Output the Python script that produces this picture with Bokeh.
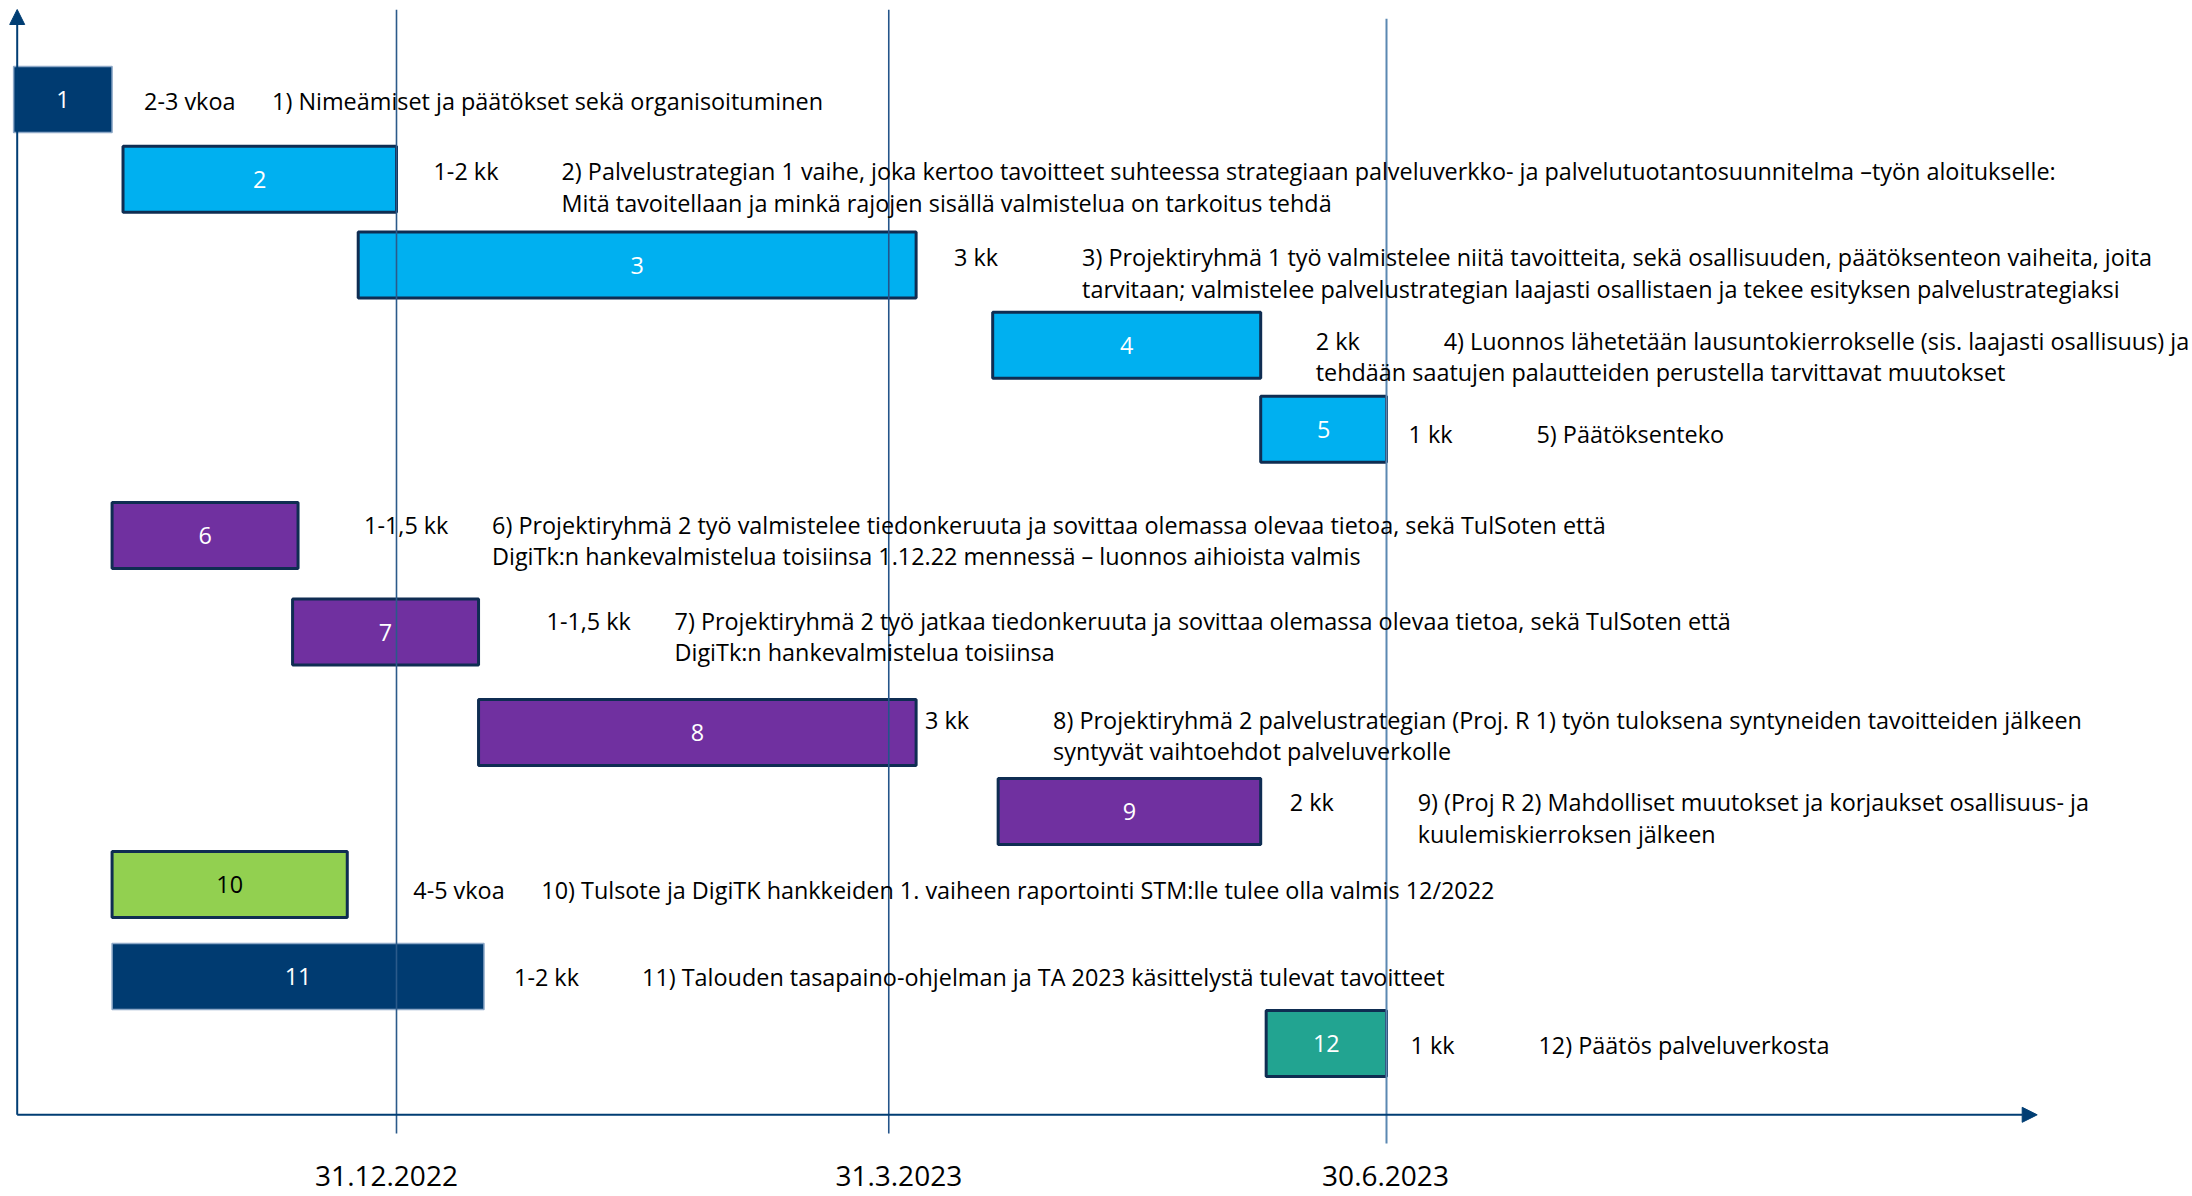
import pandas as pd
from bokeh.plotting import figure
from bokeh.models import Range1d, Arrow, NormalHead, ColumnDataSource
from bokeh.core.properties import value
from bokeh.embed import file_html
from bokeh.resources import INLINE

# ---------------- data ----------------
task_id = ["1", "2", "3", "4", "5", "6", "7", "8", "9", "10", "11", "12"]
start = ["2022-10-22", "2022-11-11", "2022-12-24", "2023-04-19", "2023-06-07", "2022-11-09",
         "2022-12-12", "2023-01-15", "2023-04-20", "2022-11-09", "2022-11-09", "2023-06-08"]
end = ["2022-11-09", "2022-12-31", "2023-04-05", "2023-06-07", "2023-06-30", "2022-12-13",
       "2023-01-15", "2023-04-05", "2023-06-07", "2022-12-22", "2023-01-16", "2023-06-30"]
duration = ["2-3 vkoa", "1-2 kk", "3 kk", "2 kk", "1 kk", "1-1,5 kk",
            "1-1,5 kk", "3 kk", "2 kk", "4-5 vkoa", "1-2 kk", "1 kk"]
desc1 = [
    "1) Nimeämiset ja päätökset sekä organisoituminen",
    "2) Palvelustrategian 1 vaihe, joka kertoo tavoitteet suhteessa strategiaan palveluverkko- ja palvelutuotantosuunnitelma \u2013työn aloitukselle:",
    "3) Projektiryhmä 1 työ valmistelee niitä tavoitteita, sekä osallisuuden, päätöksenteon vaiheita, joita",
    "4) Luonnos lähetetään lausuntokierrokselle (sis. laajasti osallisuus) ja",
    "5) Päätöksenteko",
    "6) Projektiryhmä 2 työ valmistelee tiedonkeruuta ja sovittaa olemassa olevaa tietoa, sekä TulSoten että",
    "7) Projektiryhmä 2 työ jatkaa tiedonkeruuta ja sovittaa olemassa olevaa tietoa, sekä TulSoten että",
    "8) Projektiryhmä 2 palvelustrategian (Proj. R 1) työn tuloksena syntyneiden tavoitteiden jälkeen",
    "9) (Proj R 2) Mahdolliset muutokset ja korjaukset osallisuus- ja",
    "10) Tulsote ja DigiTK hankkeiden 1. vaiheen raportointi STM:lle tulee olla valmis 12/2022",
    "11) Talouden tasapaino-ohjelman ja TA 2023 käsittelystä tulevat tavoitteet",
    "12) Päätös palveluverkosta",
]
desc2 = [
    "",
    "Mitä tavoitellaan ja minkä rajojen sisällä valmistelua on tarkoitus tehdä",
    "tarvitaan; valmistelee palvelustrategian laajasti osallistaen ja tekee esityksen palvelustrategiaksi",
    "tehdään saatujen palautteiden perustella tarvittavat muutokset",
    "",
    "DigiTk:n hankevalmistelua toisiinsa 1.12.22 mennessä \u2013 luonnos aihioista valmis",
    "DigiTk:n hankevalmistelua toisiinsa",
    "syntyvät vaihtoehdot palveluverkolle",
    "kuulemiskierroksen jälkeen",
    "",
    "",
    "",
]
milestone_dates = ["2022-12-31", "2023-03-31", "2023-06-30"]
milestone_labels = ["31.12.2022", "31.3.2023", "30.6.2023"]

# ---------------- styles / layout ----------------
NAVY, LBLUE, PURPLE, GREEN, TEAL = "#003b71", "#00b0f0", "#7030a0", "#92d050", "#22a491"
fill = [NAVY, LBLUE, LBLUE, LBLUE, LBLUE, PURPLE, PURPLE, PURPLE, PURPLE, GREEN, NAVY, TEAL]
edge = ["#8ea9c8", "#0f2d52", "#0f2d52", "#0f2d52", "#0f2d52", "#0f2d52",
        "#0f2d52", "#0f2d52", "#0f2d52", "#0f2d52", "#8ea9c8", "#0f2d52"]
edge_w = [1.5, 3, 3, 3, 3, 3, 3, 3, 3, 3, 1.5, 3]
num_color = ["white"] * 9 + ["black"] + ["white"] * 2

row_y = [99, 178.7, 264.5, 344.7, 428.8, 535, 631.5, 732, 811, 884, 976, 1043]
text_y = [100, 170.7, 256.7, 340, 433, 524, 620, 719, 801.7, 889, 976.7, 1044]
LINE_GAP = 31.5
label_gap = [32, 37, 38, 55, 22, 66, 68, 9, 29, 66, 30, 24]
TAB = 128
line2_indent = [TAB] * 12
line2_indent[3] = 0
BAR_H = 66

FONT = value("Open Sans")
FS = "23.4px"

ORIGIN = pd.Timestamp("2022-12-31")
PX_PER_DAY = 990 / 181.0
X_ORIGIN_PX = 396
def days(s):
    return [(pd.Timestamp(d) - ORIGIN).days for d in s]

x0 = days(start)
x1 = days(end)
xm = [(a + b) / 2 for a, b in zip(x0, x1)]
ms = days(milestone_dates)

W, H = 2192, 1196
p = figure(width=W, height=H, output_backend="svg", toolbar_location=None,
           x_range=Range1d(-X_ORIGIN_PX / PX_PER_DAY, (W - X_ORIGIN_PX) / PX_PER_DAY),
           y_range=Range1d(H, 0), x_axis_type=None, y_axis_type=None,
           min_border=0, outline_line_color=None)
p.grid.visible = False
p.background_fill_color = "white"
p.border_fill_color = "white"

bars = ColumnDataSource(dict(left=x0, right=x1, y=row_y, fill=fill, edge=edge, ew=edge_w,
                             xm=xm, tid=task_id, nc=num_color))
p.hbar(y="y", left="left", right="right", height=BAR_H, source=bars,
       fill_color="fill", line_color="edge", line_width="ew")

# milestone vertical lines (drawn over bars)
p.segment(x0=ms, x1=ms, y0=[9.3, 9.3, 18.3], y1=[1133, 1133, 1143],
          line_color=["#2b5a8a", "#24548a", "#5b88b2"], line_width=[1.6, 1.6, 2])

# axes with arrows
AX_X = (16.7 - X_ORIGIN_PX) / PX_PER_DAY
AX_Y = 1114.3
AX_C = "#003d73"
p.add_layout(Arrow(x_start=AX_X, y_start=AX_Y, x_end=AX_X, y_end=9,
                   line_color=AX_C, line_width=2,
                   end=NormalHead(size=15, fill_color=AX_C, line_color=AX_C)))
p.add_layout(Arrow(x_start=AX_X, y_start=AX_Y, x_end=(2036.7 - X_ORIGIN_PX) / PX_PER_DAY, y_end=AX_Y,
                   line_color=AX_C, line_width=2,
                   end=NormalHead(size=15, fill_color=AX_C, line_color=AX_C)))

# numbers in bars
p.text(x="xm", y="y", text="tid", source=bars, text_color="nc", text_align="center",
       text_baseline="middle", text_font=FONT, text_font_size=FS)

# duration labels and descriptions
txt = ColumnDataSource(dict(x=x1, y=text_y, y2=[v + LINE_GAP for v in text_y],
                            dur=duration, d1=desc1, d2=desc2,
                            g=label_gap, g2=[g + TAB for g in label_gap],
                            g3=[g + i for g, i in zip(label_gap, line2_indent)]))
p.text(x="x", y="y", text="dur", x_offset="g", source=txt, text_align="left",
       text_baseline="middle", text_font=FONT, text_font_size=FS, text_color="black")
p.text(x="x", y="y", text="d1", x_offset="g2", source=txt, text_align="left",
       text_baseline="middle", text_font=FONT, text_font_size=FS, text_color="black")
p.text(x="x", y="y2", text="d2", x_offset="g3", source=txt, text_align="left",
       text_baseline="middle", text_font=FONT, text_font_size=FS, text_color="black")

# milestone labels
p.text(x=ms, y=[1175] * 3, text=milestone_labels, x_offset=[-10, 10, -1],
       text_align="center", text_baseline="middle", text_font=FONT,
       text_font_size="28px", text_color="black")

open("out.html", "w").write(file_html(p, INLINE))
